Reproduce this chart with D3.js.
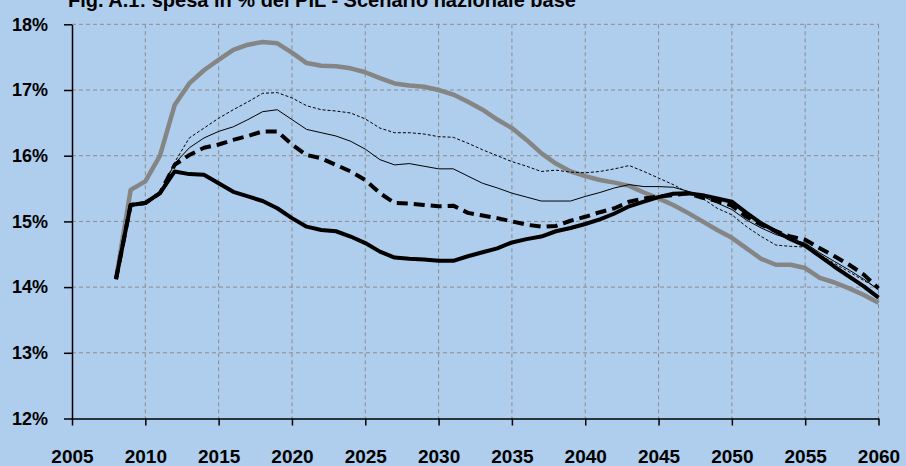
<!DOCTYPE html>
<html>
<head>
<meta charset="utf-8">
<script src="https://cdn.jsdelivr.net/npm/d3@7"></script>
<style>
  body { margin: 0; background: #afcdec; }
  svg { display: block; }
</style>
</head>
<body>
<svg id="chart" width="906" height="466"></svg>
<script>
const years = d3.range(2008, 2061);
const xTicks = [2005, 2010, 2015, 2020, 2025, 2030, 2035, 2040, 2045, 2050, 2055, 2060];
const yTicks = [12, 13, 14, 15, 16, 17, 18];

// grey thick
const greyThick = [14.12, 15.48, 15.61, 16.0, 16.77, 17.1, 17.3, 17.46, 17.61, 17.69, 17.73, 17.71,
  17.57, 17.41, 17.37, 17.36, 17.33, 17.27, 17.18, 17.1, 17.07, 17.05, 17.0, 16.93, 16.82, 16.7,
  16.55, 16.42, 16.24, 16.04, 15.88, 15.76, 15.69, 15.63, 15.59, 15.54, 15.44, 15.35, 15.25,
  15.13, 15.0, 14.87, 14.75, 14.59, 14.43, 14.34, 14.34, 14.29, 14.14, 14.07, 13.98, 13.88, 13.76];
// black thick solid
const blackThick = [14.12, 15.25, 15.28, 15.43, 15.76, 15.72, 15.71, 15.58, 15.45, 15.38, 15.31, 15.2,
  15.05, 14.92, 14.87, 14.85, 14.77, 14.67, 14.54, 14.45, 14.43, 14.42, 14.4, 14.4, 14.47, 14.53,
  14.59, 14.68, 14.73, 14.77, 14.85, 14.9, 14.96, 15.03, 15.12, 15.23, 15.3, 15.37, 15.42,
  15.43, 15.4, 15.35, 15.3, 15.13, 14.97, 14.85, 14.73, 14.63, 14.47, 14.31, 14.16, 14.01, 13.84];
// black thick dashed
const blackDashed = [14.12, 15.25, 15.28, 15.43, 15.86, 16.01, 16.12, 16.17, 16.24, 16.3, 16.37, 16.37,
  16.17, 16.01, 15.96, 15.86, 15.76, 15.63, 15.43, 15.28, 15.27, 15.25, 15.23, 15.24, 15.13, 15.09,
  15.05, 15.0, 14.95, 14.92, 14.93, 15.01, 15.07, 15.14, 15.2, 15.3, 15.35, 15.38, 15.4,
  15.43, 15.36, 15.31, 15.24, 15.07, 14.95, 14.85, 14.77, 14.72, 14.59, 14.47, 14.34, 14.19, 13.98];
// thin solid
const thinSolid = [14.12, 15.25, 15.28, 15.43, 15.88, 16.12, 16.27, 16.37, 16.44, 16.55, 16.67, 16.7,
  16.55, 16.4, 16.35, 16.3, 16.22, 16.1, 15.94, 15.86, 15.88, 15.84, 15.8, 15.8, 15.69, 15.58,
  15.51, 15.43, 15.37, 15.31, 15.31, 15.31, 15.38, 15.44, 15.51, 15.56, 15.53, 15.53, 15.52,
  15.46, 15.38, 15.28, 15.18, 15.02, 14.9, 14.8, 14.73, 14.67, 14.52, 14.39, 14.26, 14.12, 13.96];
// thin dashed
const thinDashed = [14.12, 15.25, 15.28, 15.43, 15.9, 16.27, 16.42, 16.57, 16.7, 16.82, 16.95, 16.96,
  16.88, 16.76, 16.7, 16.68, 16.65, 16.56, 16.42, 16.35, 16.35, 16.33, 16.29, 16.28, 16.19, 16.09,
  16.0, 15.91, 15.84, 15.76, 15.78, 15.75, 15.74, 15.76, 15.8, 15.85, 15.76, 15.66, 15.56,
  15.44, 15.35, 15.2, 15.1, 14.92, 14.77, 14.64, 14.62, 14.61, 14.49, 14.36, 14.23, 14.1, 13.98];

const svg = d3.select("#chart");
const plotLeft = 72, plotRight = 878.5, plotTop = 24.3, plotBottom = 418.5;

const x = d3.scaleLinear().domain([2005, 2060]).range([plotLeft, plotRight]);
const y = d3.scaleLinear().domain([12, 18]).range([plotBottom, plotTop]);

// grid
svg.append("g")
  .selectAll("line")
  .data(yTicks.slice(1))
  .enter()
  .append("line")
    .attr("x1", plotLeft)
    .attr("x2", plotRight)
    .attr("y1", d => y(d))
    .attr("y2", d => y(d))
    .style("stroke", "#8c8c8c")
    .style("stroke-width", 1)
    .style("stroke-dasharray", "4,3");
svg.append("g")
  .selectAll("line")
  .data(xTicks.slice(1))
  .enter()
  .append("line")
    .attr("x1", d => x(d))
    .attr("x2", d => x(d))
    .attr("y1", plotTop)
    .attr("y2", plotBottom)
    .style("stroke", "#8c8c8c")
    .style("stroke-width", 1)
    .style("stroke-dasharray", "4,3");

// axes
svg.append("g")
  .attr("transform", "translate(" + plotLeft + ",0)")
  .call(d3.axisLeft(y).tickValues(yTicks).tickSize(8).tickSizeOuter(0).tickPadding(16).tickFormat(d => d + "%"))
  .call(g => g.selectAll("line").style("stroke", "#000").style("stroke-width", 1.5))
  .call(g => g.select(".domain").style("stroke", "#000").style("stroke-width", 1.5))
  .call(g => g.selectAll("text")
    .style("font-family", "Liberation Sans")
    .style("font-weight", "bold")
    .style("font-size", "18px")
    .style("fill", "#000"));

svg.append("g")
  .attr("transform", "translate(0," + plotBottom + ")")
  .call(d3.axisBottom(x).tickValues(xTicks).tickSize(7).tickSizeOuter(0).tickPadding(24).tickFormat(d3.format("d")))
  .call(g => g.selectAll("line").style("stroke", "#000").style("stroke-width", 1.5))
  .call(g => g.select(".domain").style("stroke", "#000").style("stroke-width", 1.5))
  .call(g => g.selectAll("text")
    .style("font-family", "Liberation Sans")
    .style("font-weight", "bold")
    .style("font-size", "19px")
    .style("fill", "#000"));

// lines
const line = d3.line()
  .x((d, i) => x(years[i]))
  .y(d => y(d));

const series = [
  { values: greyThick, color: "#858585", width: 4.5, dash: null },
  { values: thinDashed, color: "#000", width: 1, dash: "3,2" },
  { values: thinSolid, color: "#000", width: 1, dash: null },
  { values: blackDashed, color: "#000", width: 4, dash: "11,6" },
  { values: blackThick, color: "#000", width: 4, dash: null }
];

svg.append("g")
  .selectAll("path")
  .data(series)
  .enter()
  .append("path")
    .attr("d", d => line(d.values))
    .style("fill", "none")
    .style("stroke", d => d.color)
    .style("stroke-width", d => d.width)
    .style("stroke-dasharray", d => d.dash)
    .style("stroke-linejoin", "round");

// title (cut off at the top in the original)
svg.append("text")
  .attr("x", 68)
  .attr("y", 7)
  .text("Fig. A.1: spesa in % del PIL - Scenario nazionale base")
  .style("font-family", "Liberation Sans")
  .style("font-weight", "bold")
  .style("font-size", "20px")
  .style("fill", "#000");
</script>
</body>
</html>
